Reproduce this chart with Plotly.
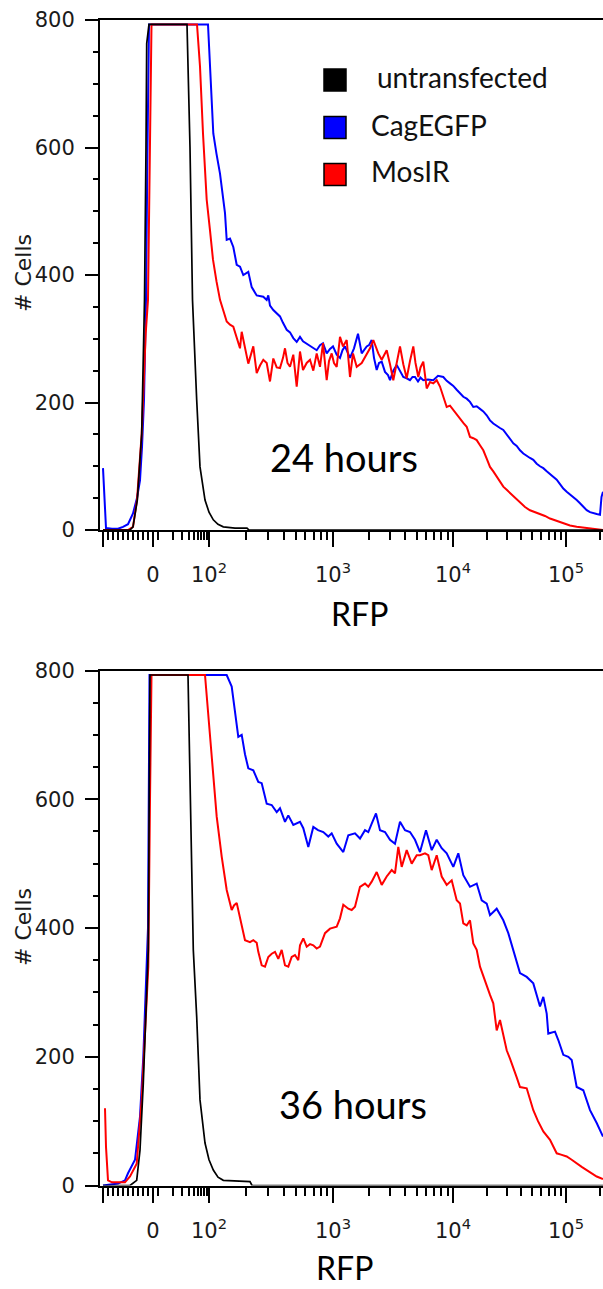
import numpy as np
import plotly.graph_objects as go

# ---------------------------------------------------------------------------
# Histogram traces (x in biexponential display units, 0 = RFP zero; y = # cells)
# ---------------------------------------------------------------------------

# 24 hours
untr_24_x = [-50, -23, -20, -15.7, -11.3, -8.5, -7, -6.3, -4, 34, 37, 39.5, 43.7, 47, 52, 56,
             60.3, 65, 70.3, 82, 94, 96, 450]
untr_24_y = [0, 0, 5, 47, 151, 361, 600, 763, 793, 793, 600, 361, 204, 99, 47, 28,
             16, 9, 5, 3, 3, 0, 0]

cag_24_x = [-50, -49, -47, -41, -35, -30, -25, -20, -16, -13, -11, -9, -7, -5.5, -4, 55, 58, 60.3,
            63.5, 67, 72, 73.7, 77, 80.3, 83.7, 87, 90.3, 95.3, 98.7, 103.7, 110.3, 113.7, 115.3,
            117, 120.3, 123.7, 127, 130, 133.7, 137, 140.3, 143.7, 147, 150, 153.7, 157, 160.3,
            163.7, 167, 170, 173.7, 177, 180, 183.7, 187, 189.5, 192, 194.5, 197, 201, 205,
            208.7, 211, 213.7, 216, 218.7, 221, 223.7, 226, 228.7, 232, 235, 237, 240.3, 243.7,
            247, 250.3, 253.7, 257, 259.5, 262, 265, 267.5, 270.3, 275, 280.3, 285, 290.3, 293.7,
            297, 300.3, 303.7, 307, 310.3, 313.7, 317, 320.3, 323.7, 327, 330.3, 333.7, 337,
            340.3, 343.7, 347, 350.3, 353.7, 357, 360.3, 363.7, 367, 370.3, 373.7, 377, 380.3,
            383.7, 387, 390.3, 393.7, 397, 400.3, 403.7, 407, 410.3, 413.7, 417, 420.3, 423.7,
            427, 430.3, 433.7, 437, 440.3, 443.7, 447, 448.5, 450]
cag_24_y = [97, 60, 3, 2, 2, 5, 9, 26, 50, 78, 130, 204, 361, 600, 793, 793, 700, 622,
            590, 559, 497, 455, 457, 444, 416, 413, 400, 405, 381, 368, 366, 361, 368,
            352, 345, 340, 335, 325, 314, 310, 301, 295, 303, 296, 292, 288, 285,
            282, 290, 293, 277, 284, 288, 275, 270, 282, 288, 278, 270, 285, 308,
            277, 283, 288, 290, 298, 270, 251, 262, 264, 248, 243, 235, 250, 259,
            249, 240, 238, 235, 240, 240, 233, 239, 235, 236, 235, 242, 240, 234,
            230, 226, 220, 215, 209, 206, 201, 193, 194, 190, 186, 180, 172,
            167, 163, 160, 157, 150, 143, 136, 132, 125, 120, 116, 113, 110,
            104, 100, 97, 92, 88, 84, 79, 72, 65, 60, 56, 52, 47,
            42, 37, 31, 28, 26, 25, 24, 52, 60]

mos_24_x = [-50, -25, -20, -16, -11.3, -7.3, -5, -3, -1.5, 44, 47, 50, 53.7, 57, 60, 63.5, 67,
            73.7, 77, 80.3, 83.7, 87, 88.7, 92, 95.3, 100.3, 103.7, 107, 110.3, 113.7, 117,
            120.3, 123.7, 127, 130, 132, 134.5, 137, 140.3, 143.7, 147, 150, 153.7, 157, 160.3,
            163.7, 167, 170, 173.7, 176, 178.7, 181, 183.7, 187, 190, 193.7, 197, 200, 203.7,
            208.7, 213.7, 217, 220.3, 225.3, 228.7, 233.7, 237, 240.3, 243.7, 247, 250.3, 253.7,
            257, 260.3, 262.5, 265.3, 267.5, 270.3, 273.7, 277, 280.3, 283.7, 287, 290.3, 293.7,
            297, 300.3, 303.7, 307, 310.3, 313.7, 317, 320.3, 323.7, 327, 330.3, 333.7, 337,
            340.3, 343.7, 347, 350.3, 353.7, 357, 362, 367, 372, 377, 382, 387, 392, 397, 403.7,
            410.3, 417, 423.7, 433.7, 442, 450]
mos_24_y = [0, 0, 5, 47, 151, 308, 361, 600, 793, 793, 727, 622, 518, 470, 424, 390, 361,
            327, 322, 319, 300, 285, 311, 285, 261, 288, 246, 258, 267, 262, 233,
            269, 255, 254, 270, 285, 262, 256, 275, 225, 280, 251, 262, 267, 250,
            277, 256, 293, 235, 265, 277, 262, 256, 303, 288, 298, 240, 277, 256,
            262, 277, 285, 298, 277, 267, 282, 260, 235, 262, 288, 260, 238,
            265, 288, 262, 240, 255, 264, 222, 232, 230, 235, 225, 210, 193,
            195, 188, 182, 175, 168, 162, 146, 144, 141, 133, 125, 112, 99,
            92, 84, 76, 68, 63, 58, 50, 42, 36, 31, 28, 26, 22, 18, 14,
            10, 7, 5, 3, 1, 0]

# 36 hours
untr_36_x = [-50, -23, -16.3, -13, -9.7, -6.3, -4.7, -3.8, -3, 35, 38.7, 40.3, 43.7, 47, 52, 56,
             60.3, 65, 70.3, 97, 99, 450]
untr_36_y = [0, 0, 8, 55, 159, 288, 366, 600, 793, 793, 500, 366, 262, 133, 66, 40,
             24, 13, 8, 6, 0, 0]

cag_36_x = [-50, -35, -28, -25, -18, -13, -9.7, -7, -5, -3.5, 73.7, 78.7, 82, 85.3, 88.7, 92,
            95.3, 100.3, 105.3, 108.7, 113.7, 118.7, 123.7, 127, 132, 135.3, 140.3, 147, 150.3,
            155.3, 160.3, 165, 170.3, 175.3, 178.7, 183.7, 190.3, 195.3, 202, 207, 212, 215.3,
            218.7, 223, 227, 232, 237, 242, 247, 252, 257, 262, 267, 273, 278.7, 283.7, 288.7,
            293.7, 300.3, 305.3, 310.3, 317, 323.7, 328.7, 333.7, 337, 343.7, 350.3, 355.3,
            360.3, 363.7, 367, 373.7, 380.3, 387, 390.3, 393.7, 395.3, 402, 405.3, 410.3, 415.3,
            418.7, 423.7, 430.3, 437, 443.7, 450]
cag_36_y = [0, 3, 8, 19, 40, 107, 200, 330, 400, 793, 793, 775, 733, 697, 700, 670,
            648, 645, 627, 625, 593, 591, 580, 586, 565, 575, 560, 565, 555,
            526, 557, 552, 549, 542, 547, 531, 518, 544, 547, 539, 552, 549,
            562, 578, 552, 549, 537, 531, 565, 552, 549, 537, 518, 552, 521, 537, 524,
            516, 495, 516, 482, 464, 469, 443, 438, 420, 430, 412, 392,
            366, 345, 330, 324, 314, 278, 293, 267, 236, 239, 226, 203, 200,
            195, 153, 148, 117, 97, 76]

mos_36_x = [-48, -47, -45, -41, -28, -23, -16.3, -11.3, -8, -4.7, -3, -1.5, 52, 55.3, 58.7, 63.7,
            68.7, 73.7, 78.7, 81, 83.7, 87, 92, 97, 100.3, 103.7, 105.3, 108.7, 112, 115.3,
            118.7, 122, 125.3, 128.7, 132, 135.3, 138.7, 142, 145.3, 147, 150.3, 153.7, 157,
            160.3, 163.7, 167, 172, 177, 183.7, 187, 190.3, 195.3, 198.7, 202, 207, 212, 215.3,
            218.7, 223.7, 228.7, 233.7, 238.7, 242, 245.3, 248.7, 253.7, 258.7, 263.7, 267, 272,
            275.3, 278.7, 283.7, 288.7, 293.7, 298.7, 303.7, 307, 310.3, 313.7, 317, 320.3,
            323.7, 327, 330.3, 333.7, 337, 340.3, 343.7, 347, 350.3, 353.7, 357, 360.3, 363.7,
            367, 373.7, 377, 380.3, 385, 390.3, 397, 403.7, 408, 413.7, 418.7, 423.7, 428.7,
            433.7, 438.7, 443.7, 450]
mos_36_y = [120, 60, 8, 5, 5, 14, 34, 133, 236, 340, 600, 793, 793, 728, 661, 573,
            511, 459, 428, 435, 439, 417, 381, 378, 381, 377, 363, 342, 340, 355,
            360, 363, 352, 366, 342, 340, 355, 358, 350, 373, 384, 371, 375,
            373, 368, 371, 392, 399, 402, 415, 436, 430, 428, 433, 464, 469, 464,
            472, 487, 467, 480, 490, 485, 526, 495, 521, 500, 513, 513, 516,
            513, 490, 513, 480, 467, 474, 443, 438, 407, 404, 412, 376,
            366, 340, 325, 309, 296, 283, 241, 257, 233, 210, 197, 184, 168,
            153, 151, 134, 117, 100, 84, 71, 50, 48, 45, 40, 34, 29,
            24, 19, 14, 10]

# Axis ticks (RFP intensities placed on the biexponential display scale)
major_rfp = [-100, 0, 1e2, 1e3, 1e4, 1e5]
major_text = ["", "0", "10<sup>2</sup>", "10<sup>3</sup>", "10<sup>4</sup>", "10<sup>5</sup>"]
minor_rfp = ([-v for v in range(10, 100, 10)] + list(range(10, 100, 10)) +
             [m * 10 ** d for d in (2, 3, 4) for m in range(2, 10)] + [2e5])
count_ticks = [0, 200, 400, 600, 800]

# Display scale: linear around zero, log-like above 10
DEC_LOG = [1, 2, 3, 4, 5, 5.4185]
DEC_POS = [5, 56, 180, 300, 413, 460]


def display(v):
    v = np.asarray(v, dtype=float)
    lin = 0.5 * v
    lg = np.interp(np.log10(np.clip(v, 10, None)), DEC_LOG, DEC_POS)
    return np.where(v <= 10, lin, lg)


W, H = 603, 1289
BLUE, RED, BLACK = "#0000ff", "#ff0000", "#000000"


def fx(px):
    return px / W


def fy(py):
    return 1 - py / H


fig = go.Figure()

panels = [
    ("x", "y", cag_24_x, cag_24_y, mos_24_x, mos_24_y, untr_24_x, untr_24_y),
    ("x2", "y2", cag_36_x, cag_36_y, mos_36_x, mos_36_y, untr_36_x, untr_36_y),
]
for xa, ya, bx, by, rx, ry, kx, ky in panels:
    fig.add_trace(go.Scatter(x=bx, y=by, mode="lines", line=dict(color=BLUE, width=2),
                             xaxis=xa, yaxis=ya, showlegend=False))
    fig.add_trace(go.Scatter(x=rx, y=ry, mode="lines", line=dict(color=RED, width=2),
                             xaxis=xa, yaxis=ya, showlegend=False))
    fig.add_trace(go.Scatter(x=kx, y=ky, mode="lines", line=dict(color=BLACK, width=1.7),
                             xaxis=xa, yaxis=ya, showlegend=False))

tick_font = dict(family="DejaVu Sans", size=21, color="#1a1a1a")
xaxis_common = dict(
    range=[-53, 450], domain=[fx(100), 1], showline=True, linecolor="black", linewidth=2,
    mirror=True, showgrid=False, zeroline=False, ticks="outside", ticklen=15, tickwidth=2,
    tickcolor="black", tickmode="array", tickvals=display(major_rfp).tolist(),
    ticktext=major_text, tickfont=tick_font, ticklabelstandoff=10, automargin=False,
    minor=dict(tickmode="array", tickvals=display(minor_rfp).tolist(), ticks="outside",
               ticklen=8, tickwidth=1.5, tickcolor="black"),
)
yaxis_common = dict(
    range=[0, 800], showline=True, linecolor="black", linewidth=2, showgrid=False,
    zeroline=False, ticks="outside", ticklen=13, tickwidth=2, tickcolor="black",
    tickmode="array", tickvals=count_ticks, tickfont=tick_font, ticklabelstandoff=6,
    automargin=False,
    minor=dict(dtick=50, ticks="outside", ticklen=5, tickwidth=1.5, tickcolor="black"),
)

fig.update_layout(
    width=W, height=H, autosize=False,
    margin=dict(l=0, r=0, t=0, b=0, pad=0, autoexpand=False),
    paper_bgcolor="white", plot_bgcolor="white",
    xaxis=dict(anchor="y", **xaxis_common),
    yaxis=dict(anchor="x", domain=[fy(530), fy(20)], **yaxis_common),
    xaxis2=dict(anchor="y2", **xaxis_common),
    yaxis2=dict(anchor="x2", domain=[fy(1185.5), fy(670.5)], **yaxis_common),
    showlegend=False,
)

annotations = []
text_font = "Lato"
for (cx, cy), label in [((344, 457), "24 hours"), ((353, 1104), "36 hours")]:
    annotations.append(dict(x=fx(cx), y=fy(cy), xref="paper", yref="paper", text=label,
                            showarrow=False, font=dict(family=text_font, size=38, color="black"),
                            xanchor="center", yanchor="middle"))
for cx, cy in [(360, 613), (344, 1267)]:
    annotations.append(dict(x=fx(cx), y=fy(cy), xref="paper", yref="paper", text="RFP",
                            showarrow=False, font=dict(family=text_font, size=32, color="black"),
                            xanchor="center", yanchor="middle"))
for cx, cy in [(24, 273), (24, 927)]:
    annotations.append(dict(x=fx(cx), y=fy(cy), xref="paper", yref="paper", text="# Cells",
                            textangle=-90, showarrow=False,
                            font=dict(family="DejaVu Sans", size=22, color="#1a1a1a"),
                            xanchor="center", yanchor="middle"))

# Legend keys
legend_items = [("untransfected", BLACK, 80, 375), ("CagEGFP", BLUE, 127.5, 369),
                ("MosIR", RED, 174.5, 369)]
shapes = []
for label, color, cy, tx in legend_items:
    shapes.append(dict(type="rect", xref="paper", yref="paper",
                       x0=fx(324), x1=fx(346), y0=fy(cy + 11), y1=fy(cy - 11),
                       fillcolor=color, line=dict(color="black", width=1.5)))
    annotations.append(dict(x=fx(tx), y=fy(cy - 3), xref="paper", yref="paper", text=label,
                            showarrow=False, font=dict(family=text_font, size=28, color="#111111"),
                            xanchor="left", yanchor="middle"))

fig.update_layout(annotations=annotations, shapes=shapes)
fig.write_html("out.html")
